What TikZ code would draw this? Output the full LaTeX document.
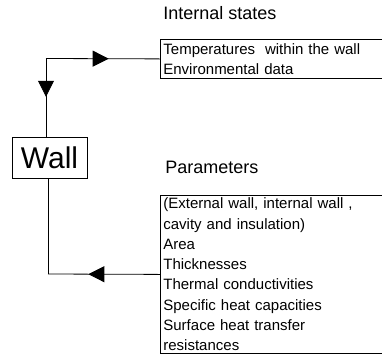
\documentclass[tikz,border=0pt]{standalone}
\usepackage{fontspec}
\setmainfont{Liberation Sans}
\usetikzlibrary{arrows.meta,decorations.markings}

\tikzset{
  titletext/.style={anchor=west, inner sep=0pt, font=\fontsize{18}{21}\selectfont},
  listbox/.style={draw, anchor=north west, align=left, inner xsep=3pt, inner ysep=1pt,
    text width=224pt, font=\fontsize{15}{20.3}\selectfont},
  flowtip/.style={postaction={decorate}, decoration={markings,
    mark=at position #1 with {\arrow{Triangle[length=16pt,width=16pt]}}}},
}

\begin{document}
\begin{tikzpicture}[x=1pt,y=-1pt,line width=0.8pt]
    \useasboundingbox (0,0) rectangle (382,354);
    % the two lists
    \node[titletext] (statestitle) at (163,13) {Internal states};
    \node[listbox, minimum height=39] (states) at (160,39) {Temperatures\ \ within the wall\\Environmental data};
    \node[titletext] (paramtitle) at (165,167) {Parameters};
    \node[listbox, minimum height=158] (params) at (160,195) {(External wall, internal wall ,\\cavity and insulation)\\Area\\Thicknesses\\Thermal conductivities\\Specific heat capacities\\Surface heat transfer\\resistances};
    % the wall
    \node[draw, inner sep=0pt, minimum width=75, minimum height=41, font=\fontsize{30}{36}\selectfont] (wall) at (49.5,157.5) {Wall};
    % connectors
    \coordinate (topcorner) at (46,58.5);
    \coordinate (botcorner) at (48,274);
    \draw[flowtip=0.55] (topcorner) -- (states.west);
    \draw[flowtip=0.49] (topcorner) -- (topcorner |- wall.north);
    \draw (wall.south -| botcorner) -- (botcorner);
    \draw[flowtip=0.64] (params.west) -- (botcorner);
\end{tikzpicture}
\end{document}
